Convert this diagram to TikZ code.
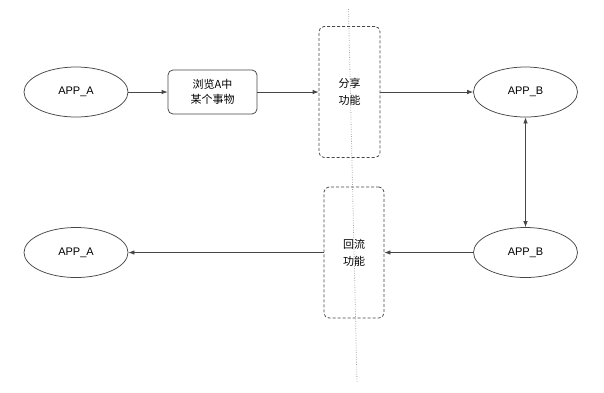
\documentclass[tikz,border=0pt]{standalone}
\usepackage{fontspec}
\setmainfont{Liberation Sans}
\newfontfamily\cjk{Noto Sans CJK SC}
\usetikzlibrary{arrows.meta,shapes.geometric}
\begin{document}
\begin{tikzpicture}[x=1pt,y=-1pt,
  font=\fontsize{11}{15}\selectfont,
  ln/.style={draw=black!72, line width=0.75pt},
  arr/.style={ln, -{Latex[length=6pt,width=4.5pt]}},
  darr/.style={ln, {Latex[length=6pt,width=4.5pt]}-{Latex[length=6pt,width=4.5pt]}},
  app/.style={ellipse, ln, minimum width=104pt, minimum height=50pt, inner sep=0pt},
  stepbox/.style={rectangle, rounded corners=5pt, ln, minimum width=89pt, minimum height=44pt, align=center, inner sep=0pt, font=\fontsize{11}{15}\selectfont\cjk},
  funcbox/.style={rectangle, rounded corners=5pt, draw=black!72, line width=0.75pt, dash pattern=on 3pt off 2pt, minimum width=61pt, minimum height=131pt, align=center, inner sep=0pt, font=\fontsize{11}{17}\selectfont\cjk},
  divider/.style={draw=black!35, line width=0.8pt, dash pattern=on 0.8pt off 1.6pt}]
\useasboundingbox[fill=white] (0,0) rectangle (604,392);
\coordinate (dtop) at (348.5,9);
\coordinate (dbot) at (357,382);
\draw[divider] (dtop) -- (dbot);
\node[app] (a1) at (76,92) {APP\_A};
\node[stepbox] (s1) at (212.5,92) {浏览A中\\某个事物};
\node[funcbox] (f1) at (349.5,92) {分享\\功能};
\node[app] (b1) at (525.5,92) {APP\_B};
\node[app] (a2) at (76,252.5) {APP\_A};
\node[funcbox, minimum width=60pt] (f2) at (354,252.5) {回流\\功能};
\node[app] (b2) at (525.5,252.5) {APP\_B};
\draw[arr] (a1) -- (s1);
\draw[arr] (s1) -- (f1);
\draw[arr] (f1) -- (b1);
\draw[darr] (b1) -- (b2);
\draw[arr] (b2) -- (f2);
\draw[arr] (f2) -- (a2);
\end{tikzpicture}
\end{document}
